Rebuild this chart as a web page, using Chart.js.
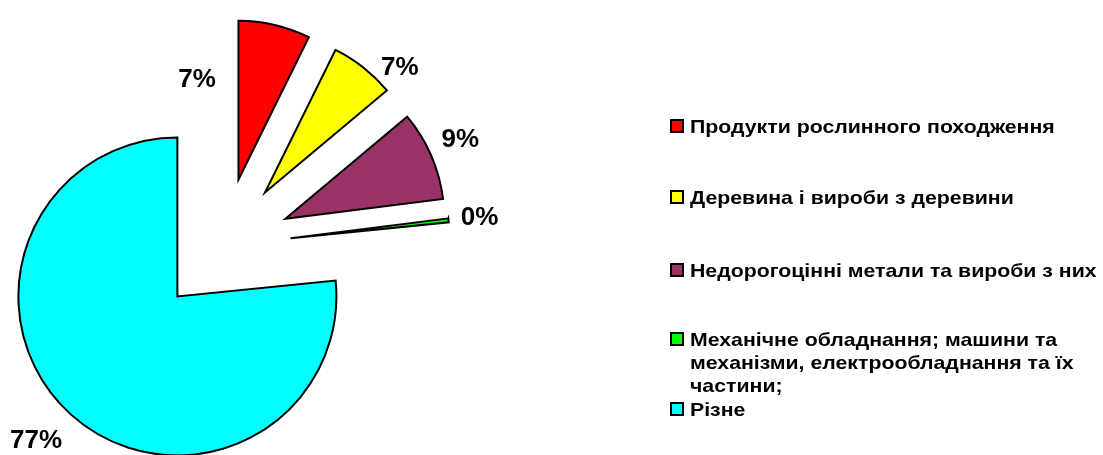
<!DOCTYPE html>
<html>
<head>
<meta charset="utf-8">
<script src="https://cdn.jsdelivr.net/npm/chart.js@4.4.0/dist/chart.umd.min.js"></script>
<style>
  body { margin: 0; background: #fff; }
  #wrap { position: relative; width: 1103px; height: 455px; overflow: hidden; }
  #chart { position: absolute; left: 0; top: 0; }
  .item { position: absolute; left: 670px; width: 430px; font: bold 19px "Liberation Sans", Arial, sans-serif; line-height: 23px; color: #000; }
  .box { position: absolute; left: 0; top: 4px; width: 10px; height: 10px; border: 2px solid #000; }
  /* the source legend font runs wider than Arial */
  .txt { margin-left: 20px; width: 380px; transform: scaleX(1.12); transform-origin: 0 0; }
</style>
</head>
<body>
<div id="wrap">
  <canvas id="chart" width="1103" height="455"></canvas>
  <div id="legend"></div>
</div>
<script>
// shares of each commodity group, %
var categories = [
  'Продукти рослинного походження',
  'Деревина і вироби з деревини',
  'Недорогоцінні метали та вироби з них',
  'Механічне обладнання; машини та механізми, електрообладнання та їх частини;',
  'Різне'
];
var values = [7.3, 6.6, 9.1, 0.4, 76.6];
var colors = ['#FF0000', '#FFFF00', '#993366', '#00FF00', '#00FFFF'];

// label placement relative to each slice (degrees off the bisector, px from centre)
var labelShift = [-22, 6.6, -0.5, 0.3, 1.7];
var labelDist = [168, 251, 260, 258, 270];
// legend item tops
var legendTops = [115, 186, 259, 328, 398];

var explode = 68;
var total = values.reduce(function(a, b) { return a + b; }, 0);

// chart.js offset also grows the radius, so pull every slice out by hand instead
var explodeSlices = {
  id: 'explodeSlices',
  afterDatasetUpdate: function(chart, args) {
    var area = chart.chartArea;
    var cx = (area.left + area.right) / 2;
    var cy = (area.top + area.bottom) / 2;
    args.meta.data.forEach(function(arc) {
      var mid = (arc.startAngle + arc.endAngle) / 2;
      arc.x = cx + Math.cos(mid) * explode;
      arc.y = cy + Math.sin(mid) * explode;
    });
  }
};

var pctLabels = {
  id: 'pctLabels',
  afterDatasetsDraw: function(chart) {
    var ctx = chart.ctx;
    var area = chart.chartArea;
    var cx = (area.left + area.right) / 2;
    var cy = (area.top + area.bottom) / 2;
    var meta = chart.getDatasetMeta(0);
    ctx.save();
    ctx.font = 'bold 26px "Liberation Sans", Arial, sans-serif';
    ctx.fillStyle = '#000';
    ctx.textAlign = 'center';
    ctx.textBaseline = 'middle';
    meta.data.forEach(function(arc, i) {
      var a = (arc.startAngle + arc.endAngle) / 2 + labelShift[i] * Math.PI / 180;
      var x = cx + Math.cos(a) * labelDist[i];
      var y = cy + Math.sin(a) * labelDist[i];
      ctx.fillText(Math.round(values[i] / total * 100) + '%', x, y);
    });
    ctx.restore();
  }
};

var chart = new Chart(document.getElementById('chart').getContext('2d'), {
  type: 'pie',
  data: {
    labels: categories,
    datasets: [{
      data: values,
      backgroundColor: colors,
      borderColor: '#000',
      borderWidth: 2,
      borderJoinStyle: 'miter'
    }]
  },
  options: {
    responsive: false,
    animation: false,
    events: [],
    radius: 159,
    layout: { padding: { left: 0, right: 657, top: 37, bottom: 0 } },
    plugins: {
      legend: { display: false },
      tooltip: { enabled: false }
    }
  },
  plugins: [explodeSlices, pctLabels]
});

var legend = document.getElementById('legend');
categories.forEach(function(name, i) {
  var item = document.createElement('div');
  item.className = 'item';
  item.style.top = legendTops[i] + 'px';
  var box = document.createElement('div');
  box.className = 'box';
  box.style.background = colors[i];
  var txt = document.createElement('div');
  txt.className = 'txt';
  txt.textContent = name;
  item.appendChild(box);
  item.appendChild(txt);
  legend.appendChild(item);
});
</script>
</body>
</html>
